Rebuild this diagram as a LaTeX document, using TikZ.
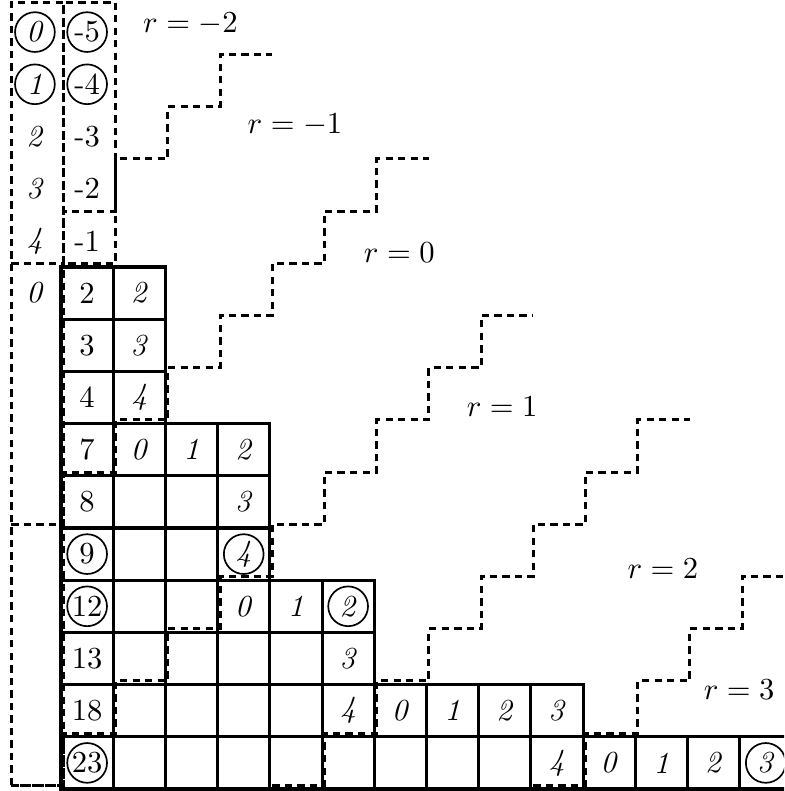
\documentclass[tikz,border=0pt]{standalone}
\begin{document}
\begin{tikzpicture}[x=0.6cm,y=0.6cm,
  gridline/.style={line width=1pt},
  dashline/.style={line width=1pt, dash pattern=on 2.4pt off 1.7pt, xshift=0.8pt, yshift=1.2pt},
  cell/.style={inner sep=0pt},
  circ/.style={circle, draw, line width=0.55pt, inner sep=0pt, minimum size=13pt},
  rlab/.style={inner sep=0pt}]
\useasboundingbox (-1.169,-0.038) rectangle (13.85,15.115);
\clip (-1.169,-0.038) rectangle (13.85,15.115);
% solid grid
\foreach \y/\n in {9/2,8/2,7/2,6/4,5/4,4/4,3/6,2/6,1/10,0/14} {
  \foreach \x in {1,...,\n} { \draw[gridline] (\x-1,\y) rectangle +(1,1); }
}
% dashed boxes and staircases
\draw[dashline] (-1,0) rectangle (0,15);
\draw[dashline] (0,10) rectangle (1,15);
\draw[dashline] (-1,10) -| (0,11) -| (1,12) -| (2,13) -| (3,14) -- (4,14);
\draw[dashline] (-1,5) -| (0,6) -| (1,7) -| (2,8) -| (3,9) -| (4,10) -| (5,11) -| (6,12) -- (7,12);
\draw[dashline] (-1,0) -| (0,1) -| (1,2) -| (2,3) -| (3,4) -| (4,5) -| (5,6) -| (6,7) -| (7,8) -| (8,9) -- (9,9);
\draw[dashline] (4,0) -| (5,1) -| (6,2) -| (7,3) -| (8,4) -| (9,5) -| (10,6) -| (11,7) -- (12,7);
\draw[dashline] (9,0) -| (10,1) -| (11,2) -| (12,3) -| (13,4) -- (14,4);
% plain entries
\foreach \x/\y/\t [count=\i] in {0/9/2, 1/9/\textit{2}, 0/8/3, 1/8/\textit{3}, 0/7/4, 1/7/\textit{4},
  0/6/7, 1/6/\textit{0}, 2/6/\textit{1}, 3/6/\textit{2}, 0/5/8, 3/5/\textit{3},
  3/3/\textit{0}, 4/3/\textit{1}, 0/2/13, 5/2/\textit{3},
  0/1/18, 5/1/\textit{4}, 6/1/\textit{0}, 7/1/\textit{1}, 8/1/\textit{2}, 9/1/\textit{3},
  9/0/\textit{4}, 10/0/\textit{0}, 11/0/\textit{1}, 12/0/\textit{2},
  -1/12/\textit{2}, -1/11/\textit{3}, -1/10/\textit{4}, -1/9/\textit{0},
  0/12/-3, 0/11/-2, 0/10/-1} {
  \node[cell] (t\i) at (\x+0.5,\y+0.5) {\t};
}
% circled entries
\foreach \x/\y/\t [count=\i] in {0/4/9, 3/4/\textit{4}, 0/3/12, 5/3/\textit{2}, 0/0/23, 13/0/\textit{3},
  -1/14/\textit{0}, -1/13/\textit{1}, 0/14/-5, 0/13/-4} {
  \node[circ] (c\i) at (\x+0.5,\y+0.5) {\t};
}
% region labels
\node[rlab] (rm2) at (2.48,14.65) {$r=-2$};
\node[rlab] (rm1) at (4.48,12.72) {$r=-1$};
\node[rlab] (r0) at (6.48,10.27) {$r=0$};
\node[rlab] (r1) at (8.45,7.32) {$r=1$};
\node[rlab] (r2) at (11.53,4.23) {$r=2$};
\node[rlab] (r3) at (12.99,1.9) {$r=3$};
\end{tikzpicture}
\end{document}
